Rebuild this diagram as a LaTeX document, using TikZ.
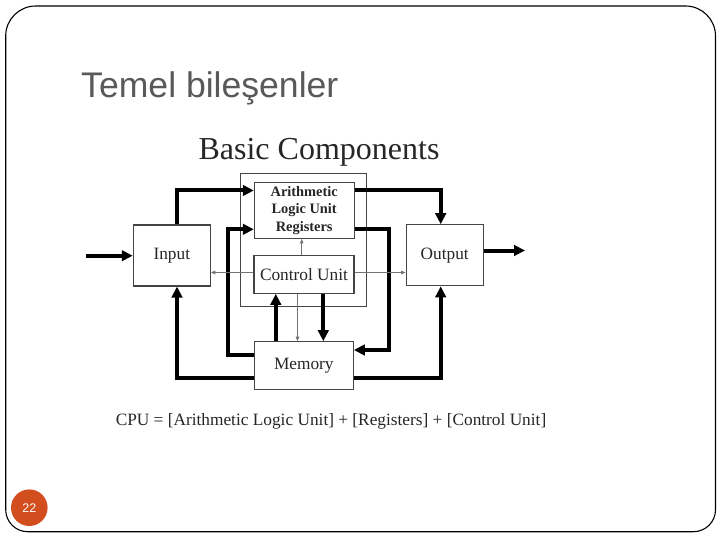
\documentclass[tikz,border=0pt]{standalone}
\usepackage{fontspec}
\setmainfont{Liberation Serif}
\newfontfamily\slidefont{Liberation Sans}
\usetikzlibrary{arrows.meta}
\definecolor{slidegray}{HTML}{595959}
\definecolor{pageorange}{HTML}{D24E1E}
\definecolor{boxgray}{HTML}{444444}

\begin{document}
\begin{tikzpicture}[x=1pt, y=-1pt, line join=miter,
    unit/.style={draw=boxgray, line width=1.1pt, inner sep=0pt, fill=white,
        text=black!85, font=\fontsize{17.3}{20}\selectfont},
    bus/.style={line width=4pt, -{Triangle[length=11pt, width=10.5pt]}},
    ctl/.style={draw=black!55, line width=0.8pt, -{Triangle[length=4.5pt, width=3.5pt]}}]
    \useasboundingbox (0,0) rectangle (720,540);
    \draw[line width=1.1pt] (5.7,300) [rounded corners=30pt] -- (5.7,6) -- (715.5,6) -- (715.5,300)
        [rounded corners=22pt] -- (715.5,531.7) -- (5.7,531.7) -- cycle;
    \node[anchor=base west, inner sep=0pt, text=slidegray,
        font=\slidefont\fontsize{35.6}{40}\selectfont] (title) at (81,97.3) {Temel bileşenler};
    \node[circle, fill=pageorange, minimum size=36.6pt, inner sep=0pt, text=white,
        font=\slidefont\fontsize{12.5}{14}\selectfont] (page) at (29.3,507.7) {22};
    \node[anchor=base, inner sep=0pt, text=black!85, font=\fontsize{32}{36}\selectfont]
        (head) at (319,160) {Basic Components};
    \node[anchor=base, inner sep=0pt, text=black!85, font=\fontsize{17.3}{20}\selectfont]
        (formula) at (331,425) {CPU = [Arithmetic Logic Unit] + [Registers] + [Control Unit]};

    \coordinate (rowtop) at (0,190.5);
    \coordinate (rowmid) at (0,229.3);
    \coordinate (rowsig) at (0,272.5);
    \coordinate (rowmemR) at (0,350);
    \coordinate (rowmemL) at (0,355);
    \coordinate (rowbot) at (0,377.5);
    \coordinate (rowout) at (0,250.5);
    \coordinate (colin) at (177,0);
    \coordinate (colL) at (228.3,0);
    \coordinate (colup) at (275.8,0);
    \coordinate (colthin) at (297.5,0);
    \coordinate (colalu) at (301.7,0);
    \coordinate (coldown) at (323.3,0);
    \coordinate (colR) at (388.7,0);
    \coordinate (colout) at (440.7,0);
    \coordinate (srcin) at (86,255.7);
    \coordinate (sinkout) at (525,250.5);

    \node[draw=boxgray, line width=1pt, inner sep=0pt, minimum width=125.7pt, minimum height=133.4pt]
        (cpu) at (303.8,240) {};
    \node[unit, minimum width=77pt, minimum height=61pt] (in) at (171.8,255.5) {Input};
    \node[unit, minimum width=77pt, minimum height=61pt] (out) at (444.7,255.3) {Output};
    \node[unit, minimum width=99.7pt, minimum height=56pt, align=center,
        font=\fontsize{14.4}{17.6}\selectfont\bfseries] (alu) at (304.2,210.3) {Arithmetic\\Logic Unit\\Registers};
    \node[unit, minimum width=100pt, minimum height=37.6pt] (cu) at (304,274.5) {Control Unit};
    \node[unit, minimum width=99pt, minimum height=47.6pt] (mem) at (303.8,365.5) {Memory};

    \draw[bus] (srcin) -- (in.west |- srcin);
    \draw[bus] (out.east |- rowout) -- (sinkout);
    \draw[bus] (in.north -| colin) |- (alu.west |- rowtop);
    \draw[bus] (mem.west |- rowmemL) -| (colL |- rowmid) -- (alu.west |- rowmid);
    \draw[bus] (alu.east |- rowtop) -| (out.north -| colout);
    \draw[bus] (alu.east |- rowmid) -| (colR |- rowmemR) -- (mem.east |- rowmemR);
    \draw[bus] (mem.west |- rowbot) -| (in.south -| colin);
    \draw[bus] (mem.east |- rowbot) -| (out.south -| colout);
    \draw[bus] (mem.north -| colup) -- (cu.south -| colup);
    \draw[bus] (cu.south -| coldown) -- (mem.north -| coldown);

    \draw[ctl] (cu.south -| colthin) -- (mem.north -| colthin);
    \draw[ctl] (cu.north -| colalu) -- (alu.south -| colalu);
    \draw[ctl] (cu.west |- rowsig) -- (in.east |- rowsig);
    \draw[ctl] (cu.east |- rowsig) -- (out.west |- rowsig);
\end{tikzpicture}
\end{document}
